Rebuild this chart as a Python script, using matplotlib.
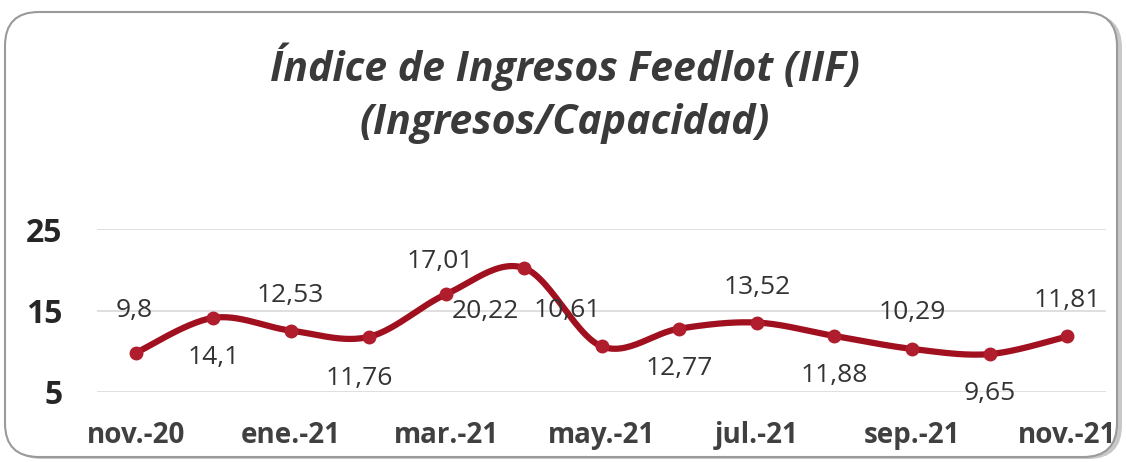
import numpy as np
import matplotlib
matplotlib.use("Agg")
import matplotlib.pyplot as plt
from matplotlib.patches import FancyBboxPatch

# ---- data ----
categories = ["nov.-20", "dic.-20", "ene.-21", "feb.-21", "mar.-21", "abr.-21", "may.-21",
              "jun.-21", "jul.-21", "ago.-21", "sep.-21", "oct.-21", "nov.-21"]
values = [9.8, 14.1, 12.53, 11.76, 17.01, 20.22, 10.61, 12.77, 13.52, 11.88, 10.29, 9.65, 11.81]
value_labels = ["9,8", "14,1", "12,53", "11,76", "17,01", "20,22", "10,61",
                "12,77", "13,52", "11,88", "10,29", "9,65", "11,81"]
yticks = [5, 15, 25]
title = "Índice de Ingresos Feedlot (IIF)\n(Ingresos/Capacidad)"

# label offsets in pixels (style)
label_offsets = [(-2, 42), (0, -40), (-1, 35), (-9, -42), (-6, 33), (-38, -44), (-34, 36),
                 (0, -40), (0, 35), (0, -40), (0, 36), (0, -39), (0, 36)]

FONT = ["Open Sans", "DejaVu Sans"]
plt.rcParams["font.family"] = FONT

W, H = 1126, 462
fig = plt.figure(figsize=(W / 100, H / 100), dpi=100)
fig.patch.set_facecolor("white")

# frame with shadow
shadow = FancyBboxPatch((8 / W, 3 / H), 1114 / W, 445 / H,
                        boxstyle="round,pad=0,rounding_size=0.03",
                        transform=fig.transFigure, facecolor="#C8C8C8", edgecolor="none",
                        mutation_aspect=W / H, zorder=0)
fig.patches.append(shadow)
frame = FancyBboxPatch((5 / W, 5 / H), 1112 / W, 445 / H,
                       boxstyle="round,pad=0,rounding_size=0.03",
                       transform=fig.transFigure, facecolor="white", edgecolor="#9A9A9A",
                       linewidth=1.5, mutation_aspect=W / H, zorder=1)
fig.patches.append(frame)

ax = fig.add_axes([97 / W, 70 / H, 1009 / W, 163 / H])
ax.set_facecolor("none")
ax.set_zorder(2)

x = np.arange(len(values))
y = np.array(values, dtype=float)

# Catmull-Rom (Excel-like smoothing)
xs, ys = [], []
P = np.column_stack([x, y])
n = len(P)
for i in range(n - 1):
    p0 = P[i - 1] if i > 0 else P[i]
    p1 = P[i]
    p2 = P[i + 1]
    p3 = P[i + 2] if i + 2 < n else P[i + 1]
    c1 = p1 + (p2 - p0) / 6.0
    c2 = p2 - (p3 - p1) / 6.0
    t = np.linspace(0, 1, 30)[:, None]
    seg = ((1 - t) ** 3) * p1 + 3 * ((1 - t) ** 2) * t * c1 + 3 * (1 - t) * t ** 2 * c2 + t ** 3 * p2
    xs.extend(seg[:, 0]); ys.extend(seg[:, 1])

ax.plot(xs, ys, color="#A0101F", linewidth=4.5, solid_capstyle="round", zorder=3, clip_on=False)
ax.plot(x, y, linestyle="none", marker="o", markersize=9, color="#B01E2D", zorder=4, clip_on=False)

for xi, yi, lab, (dx, dy) in zip(x, y, value_labels, label_offsets):
    ax.annotate(lab, (xi, yi), xytext=(dx * 0.72, dy * 0.72), textcoords="offset points",
                ha="center", va="center", fontsize=19, color="#333333", zorder=5,
                annotation_clip=False)

ax.set_xlim(-0.5, len(values) - 0.5)
ax.set_ylim(5, 25)
ax.set_yticks(yticks)
ax.set_yticklabels([str(t) for t in yticks], fontsize=23, fontweight="bold", color="#262626")
ax.set_xticks(x[::2])
ax.set_xticklabels(categories[::2], fontsize=20, fontweight="bold", color="#404040")
ax.tick_params(axis="both", length=0)
ax.tick_params(axis="y", pad=25)
ax.tick_params(axis="x", pad=21)
ax.grid(axis="y", color="#D9D9D9", linewidth=1.2)
ax.set_axisbelow(True)
for s in ax.spines.values():
    s.set_visible(False)

fig.text(565 / W, 1 - 93 / H, title, ha="center", va="center", fontsize=29.5,
         fontweight="bold", fontstyle="italic", color="#3A3A3A", linespacing=1.4)

fig.savefig("out.png", dpi=100, facecolor="white")
